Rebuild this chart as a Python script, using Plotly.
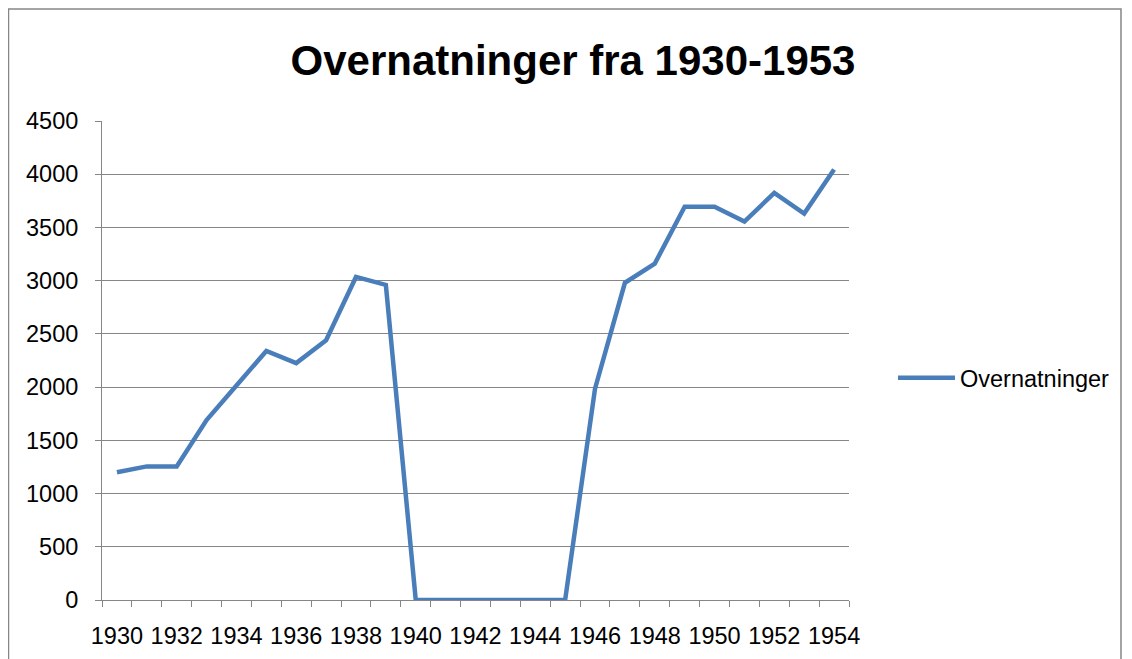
import plotly.graph_objects as go

years = list(range(1930, 1955))
overnatninger = [1200, 1255, 1255, 1690, 2015, 2340, 2225, 2440, 3035, 2960,
                 0, 0, 0, 0, 0, 0,
                 1985, 2980, 3160, 3695, 3695, 3555, 3825, 3630, 4045]
series_name = "Overnatninger"
title_text = "Overnatninger fra 1930-1953"
x_tick_vals = list(range(1930, 1955, 2))
x_tick_text = [str(v) for v in x_tick_vals]

W, H = 1132, 659
OFF = 8  # page body margin in the browser
L, R, T, B = 102 - OFF, 849 - OFF, 121 - OFF, 600 - OFF

font_main = "Liberation Sans, Arial, sans-serif"

fig = go.Figure()
fig.add_trace(go.Scatter(
    x=years, y=overnatninger, mode="lines", name=series_name,
    line=dict(color="#4A7EBB", width=4.5),
))

def px_x(p):
    return (p - OFF - L) / (R - L)

def px_y(p):
    return (B - (p - OFF)) / (B - T)

fig.update_layout(
    width=W, height=H,
    margin=dict(l=L, r=W - R, t=T, b=H - B),
    paper_bgcolor="white", plot_bgcolor="white",
    showlegend=True,
    title=dict(text="<b>" + title_text + "</b>", x=((288 + 858) / 2 - OFF) / W, xanchor="center",
               y=1 - (60 - OFF) / H, yanchor="middle",
               font=dict(family=font_main, size=42, color="black")),
    legend=dict(x=px_x(893), y=px_y(378), xanchor="left", yanchor="middle",
                font=dict(family=font_main, size=23.5, color="black"),
                bgcolor="rgba(0,0,0,0)", itemwidth=57),
    xaxis=dict(
        range=[1929.5, 1954.5], tickmode="array", tickvals=x_tick_vals, ticktext=x_tick_text,
        showgrid=False, zeroline=False, showline=True, linecolor="#868686", linewidth=1,
        ticks="outside", ticklen=0, tickcolor="#868686",
        tickfont=dict(family=font_main, size=23.5, color="black"),
        ticklabelstandoff=15,
        minor=dict(ticks="outside", ticklen=6, tickcolor="#868686", tick0=1929.5, dtick=1,
                   showgrid=False, tickwidth=1),
        fixedrange=True,
    ),
    yaxis=dict(
        range=[0, 4500], dtick=500, tick0=0,
        showgrid=True, gridcolor="#868686", gridwidth=1, zeroline=False,
        showline=True, linecolor="#868686", linewidth=1,
        ticks="outside", ticklen=6, tickcolor="#868686",
        tickfont=dict(family=font_main, size=23.5, color="black"),
        ticklabelstandoff=12,
        fixedrange=True,
    ),
)

fig.add_shape(type="rect", xref="paper", yref="paper",
              x0=px_x(8.5), x1=px_x(1121), y0=px_y(690), y1=px_y(9),
              line=dict(color="#868686", width=1.5), fillcolor="rgba(0,0,0,0)", layer="below")

fig.write_html("out.html")
